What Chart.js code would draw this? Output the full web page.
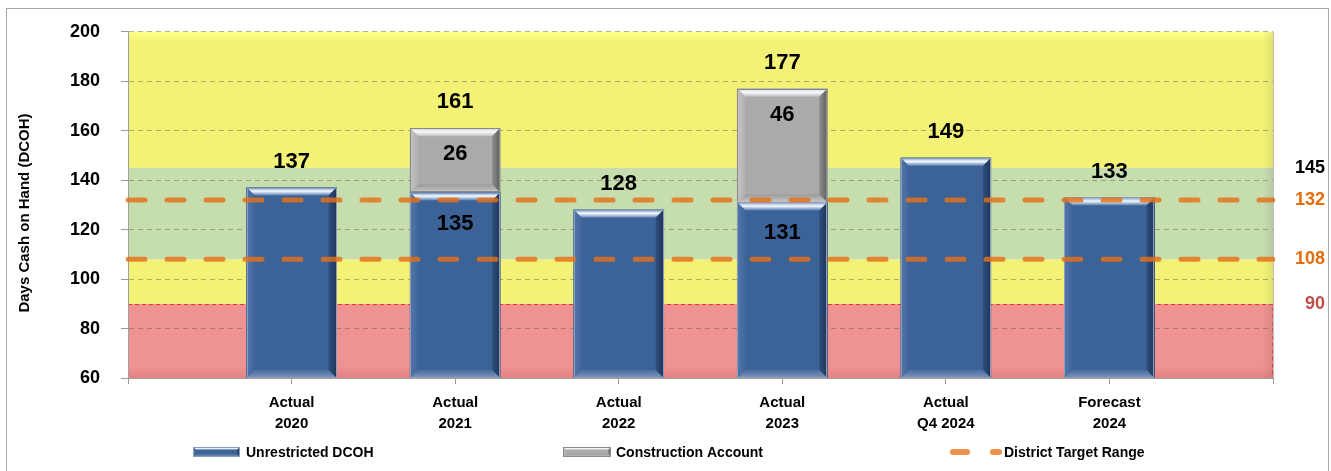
<!DOCTYPE html>
<html><head><meta charset="utf-8">
<script src="https://cdn.jsdelivr.net/npm/chart.js@4/dist/chart.umd.min.js"></script>
<style>html,body{margin:0;padding:0;background:#fff;}#wrap{width:1331px;height:471px;position:relative;overflow:hidden}</style>
</head><body><div id="wrap"><canvas id="c" width="1331" height="471"></canvas></div>
<script>
// ---------- DATA ----------
const categories = [[''], ['Actual','2020'], ['Actual','2021'], ['Actual','2022'], ['Actual','2023'], ['Actual','Q4 2024'], ['Forecast','2024'], ['']];
const unrestricted = [null, 137, 135, 128, 131, 149, 133, null];
const construction = [null, null, 26, null, 46, null, null, null];
const targetHigh = [132, 132, 132, 132, 132, 132, 132, 132];
const targetLow  = [108, 108, 108, 108, 108, 108, 108, 108];
const bandEdges = [60, 90, 108, 145, 200];
const sideLabels = [145, 132, 108, 90];
const seriesNames = ['Unrestricted DCOH', 'Construction Account', 'District Target Range'];
const yTitle = 'Days Cash on Hand (DCOH)';
const yMin = 60, yMax = 200, yStep = 20;

// ---------- STYLE ----------
const FONT = "'Liberation Sans', Arial, sans-serif";
const bandColors = ['#EE9292', '#F3F276', '#C6DDAE', '#F3F276'];
const sideLabelColors = ['#000000', '#E46C0A', '#E46C0A', '#C0504D'];
const ORANGE = 'rgba(228,112,24,0.82)';
const BLUE = '#3C6398', GRAY = '#AAAAAA';

function poly(ctx, pts, fill) {
  ctx.beginPath(); ctx.moveTo(pts[0][0], pts[0][1]);
  for (let i = 1; i < pts.length; i++) ctx.lineTo(pts[i][0], pts[i][1]);
  ctx.closePath(); ctx.fillStyle = fill; ctx.fill();
}
function bevel(ctx, x0, y0, x1, y1, b, pal) {
  ctx.fillStyle = pal.base; ctx.fillRect(x0, y0, x1 - x0, y1 - y0);
  const gT = ctx.createLinearGradient(0, y0, 0, y0 + b);
  gT.addColorStop(0, pal.top0); gT.addColorStop(0.45, pal.hi); gT.addColorStop(1, pal.top1);
  poly(ctx, [[x0,y0],[x1,y0],[x1-b,y0+b],[x0+b,y0+b]], gT);
  const gL = ctx.createLinearGradient(x0, 0, x0 + b, 0);
  gL.addColorStop(0, pal.left0); gL.addColorStop(1, pal.left1);
  poly(ctx, [[x0,y0],[x0+b,y0+b],[x0+b,y1-b],[x0,y1]], gL);
  const gR = ctx.createLinearGradient(x1 - b, 0, x1, 0);
  gR.addColorStop(0, pal.right0); gR.addColorStop(1, pal.right1);
  poly(ctx, [[x1,y0],[x1,y1],[x1-b,y1-b],[x1-b,y0+b]], gR);
  const gB = ctx.createLinearGradient(0, y1 - b, 0, y1);
  gB.addColorStop(0, pal.bot0); gB.addColorStop(1, pal.bot1);
  poly(ctx, [[x0,y1],[x0+b,y1-b],[x1-b,y1-b],[x1,y1]], gB);
  ctx.strokeStyle = pal.outline; ctx.lineWidth = 1;
  ctx.strokeRect(Math.round(x0) + 0.5, Math.round(y0) + 0.5, Math.round(x1 - x0) - 1, Math.round(y1 - y0) - 1);
}
const bluePal = {base: BLUE, top0:'#7C9BC6', hi:'#F4FAFF', top1:'#557AAE', left0:'#5276AA', left1:'#3F669C',
  right0:'#2E4F7E', right1:'#1F3558', bot0:'#4A6C9E', bot1:'#7E96BB', outline:'#8E9DB5'};
const grayPal = {base: GRAY, top0:'#CFCFCF', hi:'#FAFAFA', top1:'#BDBDBD', left0:'#C4C4C4', left1:'#B0B0B0',
  right0:'#8E8E8E', right1:'#5E5E5E', bot0:'#9A9A9A', bot1:'#C8C8C8', outline:'#8A8A8A'};

const decor = {
  id: 'decor',
  beforeDraw(chart) {
    const {ctx, chartArea: a, scales: {y}} = chart;
    ctx.save();
    for (let i = 0; i < bandEdges.length - 1; i++) {
      const yt = y.getPixelForValue(bandEdges[i + 1]), yb = y.getPixelForValue(bandEdges[i]);
      ctx.fillStyle = bandColors[i];
      ctx.fillRect(a.left, yt, a.right - a.left, yb - yt);
    }
    const topY = y.getPixelForValue(bandEdges[bandEdges.length - 1]);
    const g = ctx.createLinearGradient(0, topY, 0, topY + 10);
    g.addColorStop(0, 'rgba(255,255,140,0.9)'); g.addColorStop(1, 'rgba(255,255,140,0)');
    ctx.fillStyle = g; ctx.fillRect(a.left, topY, a.right - a.left, 10);
    const gr = ctx.createLinearGradient(a.right - 10, 0, a.right, 0);
    gr.addColorStop(0, 'rgba(0,0,0,0)'); gr.addColorStop(1, 'rgba(0,0,0,0.08)');
    ctx.fillStyle = gr; ctx.fillRect(a.right - 10, a.top, 10, a.bottom - a.top);
    const rb = ctx.createLinearGradient(0, a.bottom - 12, 0, a.bottom);
    rb.addColorStop(0, 'rgba(200,80,80,0)'); rb.addColorStop(1, 'rgba(200,80,80,0.25)');
    ctx.fillStyle = rb; ctx.fillRect(a.left, a.bottom - 12, a.right - a.left, 12);
    const y90 = y.getPixelForValue(bandEdges[1]);
    ctx.strokeStyle = '#F03030'; ctx.lineWidth = 1; ctx.setLineDash([4, 3]);
    ctx.beginPath();
    ctx.moveTo(a.left, Math.round(y90) + 0.5); ctx.lineTo(a.right, Math.round(y90) + 0.5);
    ctx.lineTo(a.right - 0.5, a.bottom);
    ctx.stroke();
    ctx.setLineDash([]);
    ctx.strokeStyle = '#BDBDBD';
    ctx.beginPath(); ctx.moveTo(a.right + 0.5, a.top); ctx.lineTo(a.right + 0.5, a.bottom + 3); ctx.stroke();
    ctx.restore();
  },
  afterDatasetDraw(chart, args) {
    const ds = chart.data.datasets[args.index];
    if (ds.type !== 'bar') return;
    const ctx = chart.ctx, a = chart.chartArea; ctx.save();
    args.meta.data.forEach((el, i) => {
      if (ds.data[i] == null) return;
      const {x, y, base, width} = el.getProps(['x', 'y', 'base', 'width'], true);
      const yb = Math.min(base, a.bottom);
      bevel(ctx, x - width / 2, y, x + width / 2, yb, 8, ds.label === seriesNames[0] ? bluePal : grayPal);
    });
    ctx.restore();
  },
  afterDraw(chart) {
    const {ctx, scales: {y}} = chart;
    ctx.save();
    ctx.strokeStyle = '#A8A8A8'; ctx.lineWidth = 1;
    ctx.strokeRect(6.5, 8.5, 1322, 470);
    ctx.font = `bold 22px ${FONT}`; ctx.fillStyle = '#000'; ctx.textAlign = 'center'; ctx.textBaseline = 'middle';
    const m0 = chart.getDatasetMeta(1), m1 = chart.getDatasetMeta(2);
    unrestricted.forEach((u, i) => {
      if (u == null) return;
      const e0 = m0.data[i];
      const c = construction[i];
      if (c == null) {
        ctx.fillText(String(u), e0.x, e0.y - 26);
      } else {
        const e1 = m1.data[i];
        ctx.fillText(String(u), e0.x, e0.y + 31);
        ctx.fillText(String(c), e1.x, e1.y + 26);
        ctx.fillText(String(u + c), e1.x, e1.y - 26);
      }
    });
    ctx.font = `bold 18px ${FONT}`; ctx.textAlign = 'right';
    sideLabels.forEach((v, i) => {
      ctx.fillStyle = sideLabelColors[i];
      ctx.fillText(String(v), 1325, y.getPixelForValue(v));
    });
    ctx.save();
    ctx.translate(25, 213); ctx.rotate(-Math.PI / 2);
    ctx.font = `bold 15px ${FONT}`; ctx.fillStyle = '#000'; ctx.textAlign = 'center';
    ctx.fillText(yTitle, 0, 0);
    ctx.restore();
    const ly = 452;
    ctx.font = `bold 14px ${FONT}`; ctx.textAlign = 'left'; ctx.textBaseline = 'middle';
    bevel(ctx, 193, ly - 5, 240, ly + 5, 3, bluePal);
    ctx.fillStyle = '#000'; ctx.fillText(seriesNames[0], 246, ly + 1);
    bevel(ctx, 563, ly - 5, 611, ly + 5, 3, grayPal);
    ctx.fillStyle = '#000'; ctx.fillText(seriesNames[1], 616, ly + 1);
    ctx.strokeStyle = 'rgba(236,140,64,0.95)'; ctx.lineWidth = 6; ctx.lineCap = 'round';
    ctx.beginPath(); ctx.moveTo(953, ly); ctx.lineTo(967, ly); ctx.moveTo(993, ly); ctx.lineTo(999, ly); ctx.stroke();
    ctx.fillStyle = '#000'; ctx.fillText(seriesNames[2], 1004, ly + 1);
    ctx.restore();
  }
};

new Chart(document.getElementById('c'), {
  data: {
    labels: categories,
    datasets: [
      {type: 'line', label: seriesNames[2], data: targetHigh, stack: 'tH', order: 0,
       borderColor: ORANGE, borderWidth: 5, borderDash: [17, 22], borderCapStyle: 'round',
       pointRadius: 0, fill: false, tension: 0},
      {type: 'bar', label: seriesNames[0], data: unrestricted, stack: 'bars', order: 1,
       backgroundColor: BLUE, borderWidth: 0, barThickness: 90},
      {type: 'bar', label: seriesNames[1], data: construction, stack: 'bars', order: 1,
       backgroundColor: GRAY, borderWidth: 0, barThickness: 90},
      {type: 'line', label: seriesNames[2] + ' low', data: targetLow, stack: 'tL', order: 0,
       borderColor: ORANGE, borderWidth: 5, borderDash: [17, 22], borderCapStyle: 'round',
       pointRadius: 0, fill: false, tension: 0}
    ]
  },
  options: {
    responsive: false, animation: false, devicePixelRatio: 1,
    layout: {padding: {top: 30, right: 58, bottom: 33, left: 0}},
    plugins: {legend: {display: false}, tooltip: {enabled: false}},
    scales: {
      x: {
        stacked: true, offset: false,
        afterFit: s => { s.height = 60; },
        grid: {display: true, drawOnChartArea: false, drawTicks: true, tickLength: 6, offset: false, color: '#9A9A9A'},
        border: {display: true, color: '#A0A0A0'},
        ticks: {font: {family: FONT, size: 15, weight: 'bold', lineHeight: 1.4}, color: '#000', padding: 8, maxRotation: 0, autoSkip: false}
      },
      y: {
        stacked: true, min: yMin, max: yMax,
        afterFit: s => { s.width = 128; },
        grid: {display: true, drawOnChartArea: true, drawTicks: true, tickLength: 7, color: 'rgba(90,90,70,0.45)', tickColor: '#9A9A9A', tickBorderDash: [10, 0]},
        border: {display: true, color: '#A0A0A0', dash: [5, 4]},
        ticks: {stepSize: yStep, font: {family: FONT, size: 18, weight: 'bold'}, color: '#000', padding: 21}
      }
    }
  },
  plugins: [decor]
});
</script></body></html>
